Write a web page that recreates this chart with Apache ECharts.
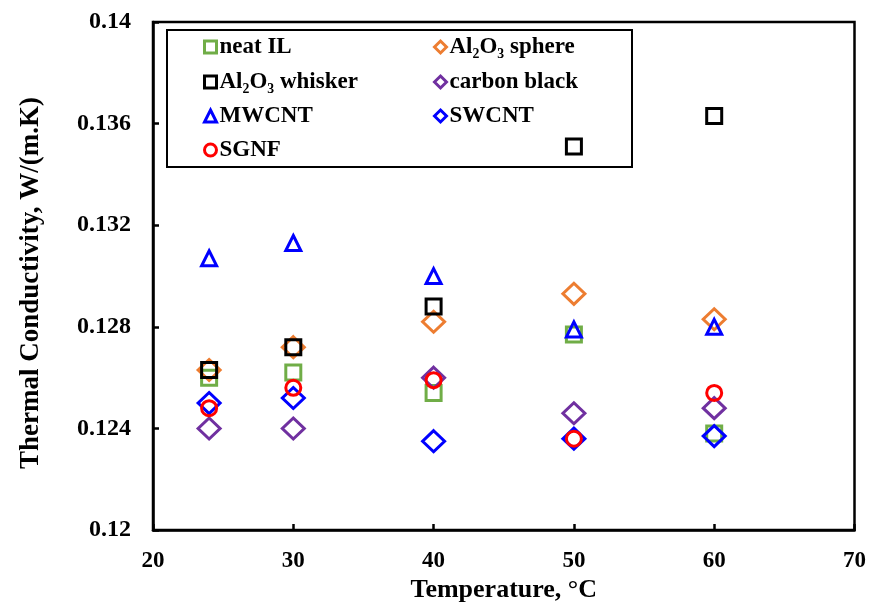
<!DOCTYPE html>
<html>
<head>
<meta charset="utf-8">
<script src="https://cdn.jsdelivr.net/npm/echarts@6/dist/echarts.min.js"></script>
<style>html,body{margin:0;padding:0;background:#fff}#c{width:869px;height:608px}</style>
</head>
<body>
<div id="c"></div>
<script>
// ---- data ----
var temperatures = [24, 30, 40, 50, 60];
var neatIL      = [0.1260, 0.1262, 0.1254, 0.1277, 0.1238];
var al2o3Sphere = [0.1263, 0.1272, 0.1282, 0.1293, 0.1283];
var al2o3Whisk  = [0.1263, 0.1272, 0.1288, 0.1351, 0.1363];
var carbonBlack = [0.1240, 0.1240, 0.1260, 0.1246, 0.1248];
var mwcnt       = [0.1307, 0.1313, 0.1300, 0.1279, 0.1280];
var swcnt       = [0.1250, 0.1252, 0.1235, 0.1236, 0.1237];
var sgnf        = [0.1248, 0.1256, 0.1259, 0.1236, 0.1254];
var seriesNames = ['neat IL', 'Al\u2082O\u2083 sphere', 'Al\u2082O\u2083 whisker', 'carbon black', 'MWCNT', 'SWCNT', 'SGNF'];
var seriesData  = [neatIL, al2o3Sphere, al2o3Whisk, carbonBlack, mwcnt, swcnt, sgnf];
var xTicks = [20, 30, 40, 50, 60, 70];
var yTicks = [0.12, 0.124, 0.128, 0.132, 0.136, 0.14];

// ---- styles ----
var colors  = ['#70AD47', '#ED7D31', '#000000', '#7030A0', '#0000FF', '#0000FF', '#FF0000'];
var symbols = ['rect', 'diamond', 'rect', 'diamond', 'triangle', 'diamond', 'circle'];
var sizes   = [15, [22, 21], 15, [22, 21], 15, [22, 21], 15];
var widths  = [3, 3, 3, 3, 3, 3, 3];
var FONT = '"Liberation Serif", "Times New Roman", serif';

function pair(x, ys) { return x.map(function (v, i) { return [v, ys[i]]; }); }

var series = seriesNames.map(function (n, i) {
  return {
    name: n, type: 'scatter',
    data: pair(temperatures, seriesData[i]),
    symbol: symbols[i], symbolSize: sizes[i],
    itemStyle: { color: 'rgba(0,0,0,0)', borderColor: colors[i], borderWidth: widths[i], opacity: 1 },
    emphasis: { disabled: true }
  };
});

// legend layout: two columns, four rows
var colX = [203, 433];
var rowY = [47, 82, 116, 150];
var legends = seriesNames.map(function (n, i) {
  return {
    data: [n], left: colX[i % 2], top: rowY[Math.floor(i / 2)] - 12,
    padding: 0, itemWidth: 12, itemHeight: 12, itemGap: 0,
    itemStyle: { borderWidth: 3, opacity: 1 },
    textStyle: { fontFamily: FONT, fontWeight: 'bold', fontSize: 23, color: '#000', lineHeight: 24, padding: [0, 0, 0, -2] },
    selectedMode: false
  };
});

var chart = echarts.init(document.getElementById('c'));
chart.setOption({
  animation: false,
  backgroundColor: '#fff',
  grid: { left: 153, right: 11, top: 22, bottom: 77, show: true, borderColor: '#000', borderWidth: 2.5 },
  xAxis: {
    type: 'value', min: xTicks[0], max: xTicks[xTicks.length - 1], interval: 10,
    name: 'Temperature, \u00B0C', nameLocation: 'middle', nameGap: 38,
    nameTextStyle: { fontFamily: FONT, fontWeight: 'bold', fontSize: 26, color: '#000' },
    axisLine: { lineStyle: { color: '#000', width: 2.5 } },
    axisTick: { inside: true, length: 6, lineStyle: { color: '#000', width: 2.5 } },
    axisLabel: { margin: 19, fontFamily: FONT, fontWeight: 'bold', fontSize: 23, color: '#000' },
    splitLine: { show: false }
  },
  yAxis: {
    type: 'value', min: yTicks[0], max: yTicks[yTicks.length - 1], interval: 0.004,
    name: 'Thermal Conductivity, W/(m.K)', nameLocation: 'middle', nameGap: 108, nameRotate: 90,
    nameTextStyle: { fontFamily: FONT, fontWeight: 'bold', fontSize: 27, color: '#000', padding: [0, 14, 0, 0] },
    axisLine: { lineStyle: { color: '#000', width: 2.5 } },
    axisTick: { inside: true, length: 6, lineStyle: { color: '#000', width: 2.5 } },
    axisLabel: { margin: 22, fontFamily: FONT, fontWeight: 'bold', fontSize: 24, color: '#000',
      formatter: function (v) { return String(+v.toFixed(3)); } },
    splitLine: { show: false }
  },
  legend: legends,
  graphic: [{
    type: 'rect', z: 1,
    shape: { x: 167, y: 30, width: 465, height: 137 },
    style: { fill: 'none', stroke: '#000', lineWidth: 2 }
  }],
  series: series
});
</script>
</body>
</html>
